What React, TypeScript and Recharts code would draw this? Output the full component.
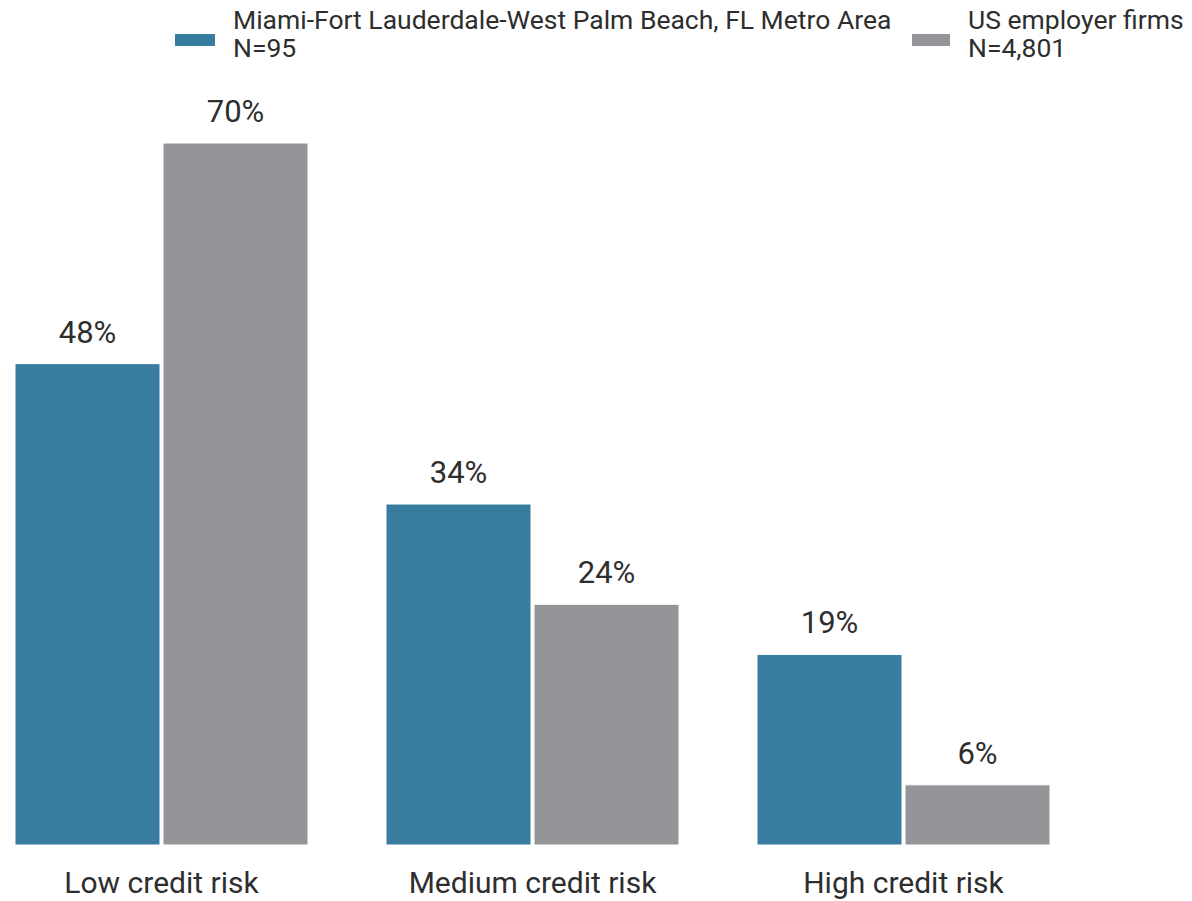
import { Bar, BarChart, LabelList, XAxis, YAxis } from 'recharts';

const categories = ['Low credit risk', 'Medium credit risk', 'High credit risk'];
const miamiValues = [48, 34, 19];
const usValues = [70, 24, 6];
const miamiName = 'Miami-Fort Lauderdale-West Palm Beach, FL Metro Area';
const miamiN = 'N=95';
const usName = 'US employer firms';
const usN = 'N=4,801';

const BLUE = '#387da0';
const GRAY = '#939598';
const TEXT = '#2e2e2e';

const chartData = categories.map((c, i) => ({
  category: c,
  miami: miamiValues[i],
  us: usValues[i],
}));

const fmt = (v: unknown) => `${v}%`;

function CategoryTick(props: any) {
  const { x, y, payload } = props;
  return (
    <text x={x} y={y + 40} textAnchor="middle" fontSize={30} fill={TEXT}>
      {payload.value}
    </text>
  );
}

function LegendItem({ left, textLeft, color, name, n }: any) {
  return (
    <>
      <div
        style={{
          position: 'absolute',
          left,
          top: 34,
          width: textLeft - left - 18,
          height: 12,
          background: color,
        }}
      />
      <div
        style={{
          position: 'absolute',
          left: textLeft,
          top: 6,
          fontSize: 26.5,
          lineHeight: '28px',
          color: TEXT,
          whiteSpace: 'nowrap',
        }}
      >
        <div>{name}</div>
        <div>{n}</div>
      </div>
    </>
  );
}

export default function App() {
  return (
    <div
      style={{
        position: 'absolute',
        left: 0,
        top: 0,
        width: 1192,
        height: 901,
        overflow: 'hidden',
        fontFamily: 'Roboto, sans-serif',
        background: '#fff',
      }}
    >
      <LegendItem left={175} textLeft={233} color={BLUE} name={miamiName} n={miamiN} />
      <LegendItem left={912} textLeft={968} color={GRAY} name={usName} n={usN} />
      <div style={{ position: 'absolute', left: -24, top: 0 }}>
        <BarChart
          width={1113}
          height={901}
          data={chartData}
          margin={{ top: 143, right: 0, bottom: 0, left: 0 }}
          barGap={3}
          barSize={145}
        >
          <XAxis
            dataKey="category"
            axisLine={false}
            tickLine={false}
            height={56}
            tick={<CategoryTick />}
            interval={0}
          />
          <YAxis hide domain={[0, 70]} />
          <Bar dataKey="miami" fill={BLUE} stroke="#ffffff" strokeWidth={1} isAnimationActive={false}>
            <LabelList
              dataKey="miami"
              position="top"
              offset={21}
              formatter={fmt}
              fontSize={31}
              fill={TEXT}
            />
          </Bar>
          <Bar dataKey="us" fill={GRAY} stroke="#ffffff" strokeWidth={1} isAnimationActive={false}>
            <LabelList
              dataKey="us"
              position="top"
              offset={21}
              formatter={fmt}
              fontSize={31}
              fill={TEXT}
            />
          </Bar>
        </BarChart>
      </div>
    </div>
  );
}
